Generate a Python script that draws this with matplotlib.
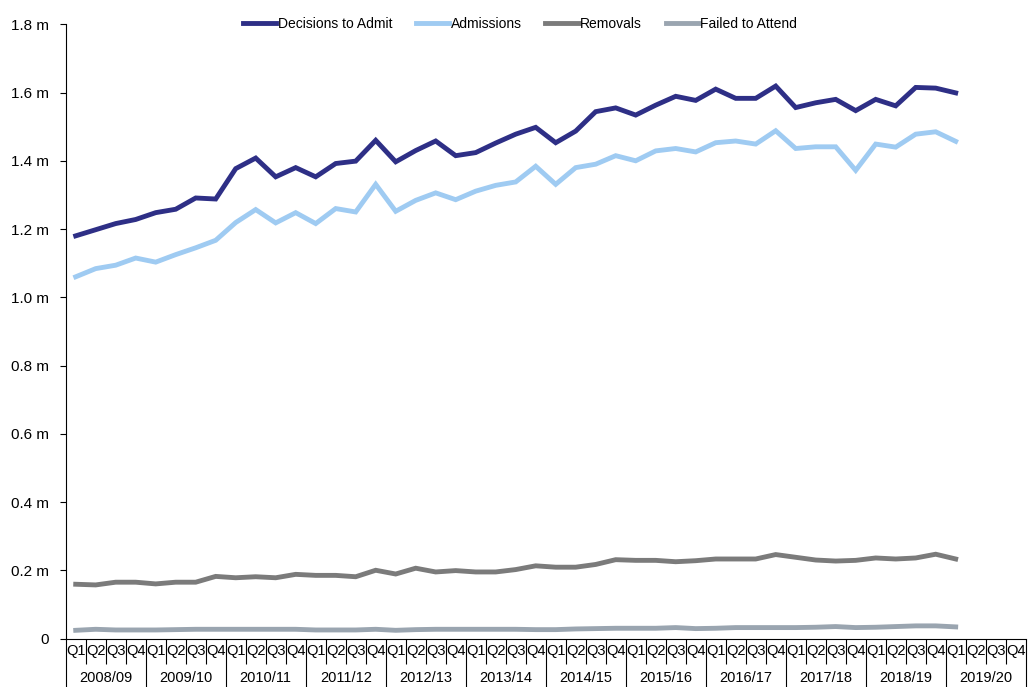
import matplotlib
matplotlib.use("Agg")
import matplotlib.pyplot as plt
from matplotlib.ticker import FixedLocator

plt.rcParams["font.family"] = ["Liberation Sans", "DejaVu Sans"]

# Financial years and quarters shown on the x axis
YEARS = ["2008/09", "2009/10", "2010/11", "2011/12", "2012/13", "2013/14",
         "2014/15", "2015/16", "2016/17", "2017/18", "2018/19", "2019/20"]
QUARTERS = ["Q1", "Q2", "Q3", "Q4"]

# Values in millions, 2008/09 Q1 .. 2019/20 Q1 (45 quarters)
decisions = [1.180, 1.198, 1.216, 1.228, 1.248, 1.258, 1.291, 1.288,
             1.377, 1.408, 1.353, 1.380, 1.353, 1.392, 1.399, 1.460,
             1.397, 1.430, 1.458, 1.415, 1.424, 1.452, 1.478, 1.498,
             1.453, 1.487, 1.544, 1.555, 1.534, 1.563, 1.589, 1.577,
             1.610, 1.583, 1.583, 1.619, 1.556, 1.570, 1.580, 1.547,
             1.580, 1.561, 1.615, 1.613, 1.599]
admissions = [1.060, 1.084, 1.094, 1.115, 1.103, 1.125, 1.145, 1.167,
              1.219, 1.257, 1.218, 1.248, 1.216, 1.260, 1.250, 1.331,
              1.252, 1.284, 1.306, 1.286, 1.311, 1.328, 1.338, 1.384,
              1.331, 1.380, 1.390, 1.415, 1.400, 1.429, 1.436, 1.426,
              1.453, 1.458, 1.449, 1.488, 1.436, 1.441, 1.441, 1.372,
              1.449, 1.440, 1.478, 1.485, 1.457]
removals = [0.159, 0.157, 0.165, 0.165, 0.160, 0.165, 0.165, 0.182,
            0.178, 0.181, 0.178, 0.188, 0.185, 0.185, 0.181, 0.200,
            0.189, 0.206, 0.195, 0.199, 0.195, 0.195, 0.202, 0.213,
            0.209, 0.209, 0.217, 0.231, 0.229, 0.229, 0.225, 0.228,
            0.233, 0.233, 0.233, 0.246, 0.238, 0.230, 0.227, 0.229,
            0.236, 0.233, 0.236, 0.247, 0.233]
failed = [0.024, 0.027, 0.025, 0.025, 0.025, 0.026, 0.027, 0.027,
          0.027, 0.027, 0.027, 0.027, 0.025, 0.025, 0.025, 0.027,
          0.024, 0.026, 0.027, 0.027, 0.027, 0.027, 0.027, 0.026,
          0.026, 0.028, 0.029, 0.030, 0.030, 0.030, 0.032, 0.029,
          0.030, 0.032, 0.032, 0.032, 0.032, 0.033, 0.035, 0.032,
          0.033, 0.035, 0.037, 0.037, 0.034]

SERIES = [
    ("Decisions to Admit", decisions, "#2e2f86"),
    ("Admissions", admissions, "#9fcbf2"),
    ("Removals", removals, "#7b7b7b"),
    ("Failed to Attend", failed, "#9aa5b0"),
]

n_quarters = len(YEARS) * 4

fig = plt.figure(figsize=(10.30, 6.87), dpi=100)
ax = fig.add_axes([65.7 / 1030, 1 - 638.5 / 687, 960 / 1030, (638.5 - 24.3) / 687])

for label, vals, color in SERIES:
    ax.plot(range(len(vals)), vals, color=color, linewidth=3.5, label=label,
            solid_joinstyle="miter")

ax.set_xlim(-0.5, n_quarters - 0.5)
ax.set_ylim(0, 1.8)

yticks = [0.2 * k for k in range(10)]
ax.set_yticks(yticks)
ax.set_yticklabels(["0"] + [f"{v:.1f} m" for v in yticks[1:]], fontsize=11)
ax.tick_params(axis="y", direction="out", length=4, width=0.8, pad=8, colors="#000000")

for side in ("top", "right"):
    ax.spines[side].set_visible(False)
for side in ("left", "bottom"):
    ax.spines[side].set_linewidth(0.8)
    ax.spines[side].set_color("#000000")

# Quarter separators (short) and year separators (long)
ax.xaxis.set_major_locator(FixedLocator([y * 4 - 0.5 for y in range(len(YEARS) + 1)]))
ax.xaxis.set_minor_locator(FixedLocator([q - 0.5 for q in range(n_quarters + 1) if q % 4]))
ax.tick_params(axis="x", which="major", direction="out", length=36, width=0.8,
               labelbottom=False)
ax.tick_params(axis="x", which="minor", direction="out", length=18, width=0.8,
               labelbottom=False)

for i in range(n_quarters):
    ax.annotate(QUARTERS[i % 4], xy=(i, 0), xycoords=("data", "axes fraction"),
                xytext=(0, -13), textcoords="offset pixels",
                ha="center", va="center", fontsize=10.5)
for j, yr in enumerate(YEARS):
    ax.annotate(yr, xy=(j * 4 + 1.5, 0), xycoords=("data", "axes fraction"),
                xytext=(0, -39), textcoords="offset pixels",
                ha="center", va="center", fontsize=10.5)

fig.legend(loc="center", bbox_to_anchor=(0.505, 1 - 23.5 / 687), ncol=4,
           frameon=False, fontsize=10, handlelength=2.4, handletextpad=0.1,
           columnspacing=1.7)

fig.savefig("out.png", dpi=100)
